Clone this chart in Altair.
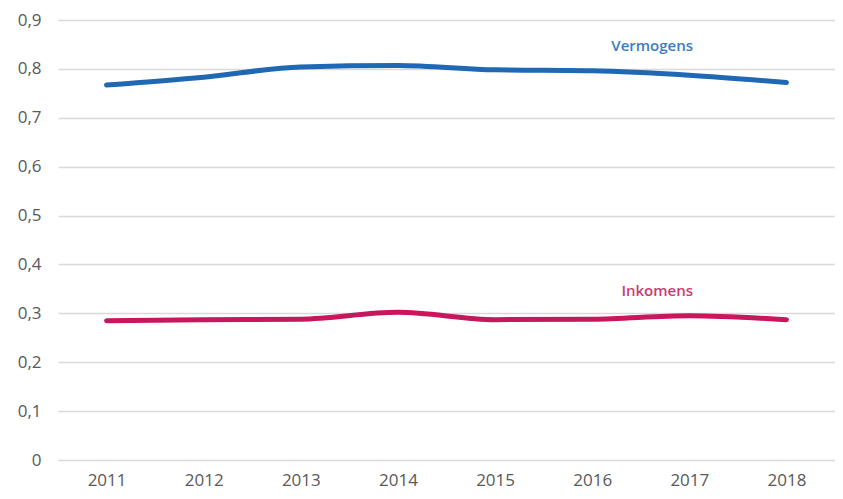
import altair as alt
import pandas as pd

years = ["2011", "2012", "2013", "2014", "2015", "2016", "2017", "2018"]
vermogens = [0.767, 0.783, 0.804, 0.807, 0.798, 0.796, 0.787, 0.772]
inkomens = [0.285, 0.287, 0.288, 0.302, 0.287, 0.288, 0.295, 0.287]
series_names = ["Vermogens", "Inkomens"]
series_colors = ["#1f68b4", "#c8175d"]
label_colors = ["#3b7cc0", "#c93a72"]
label_year = ["2016", "2016"]
label_value = [0.846, 0.346]

rows = []
for y, v in zip(years, vermogens):
    rows.append({"year": y, "value": v, "series": "Vermogens"})
for y, v in zip(years, inkomens):
    rows.append({"year": y, "value": v, "series": "Inkomens"})
df = pd.DataFrame(rows)

lab = pd.DataFrame({"year": label_year, "value": label_value, "series": series_names})

font = "Open Sans"
xenc = alt.X("year:O", scale=alt.Scale(type="point", padding=0.5),
             axis=alt.Axis(title=None, labelAngle=0, domain=False, ticks=False,
                           labelPadding=12, labelFontSize=17, labelColor="#595959",
                           labelFont=font, grid=False))
yenc = alt.Y("value:Q", scale=alt.Scale(domain=[0, 0.9], nice=False),
             axis=alt.Axis(title=None, values=[0, 0.1, 0.2, 0.3, 0.4, 0.5, 0.6, 0.7, 0.8, 0.9],
                           labelExpr="datum.value == 0 ? '0' : replace(format(datum.value, '.1f'), '.', ',')",
                           domain=False, ticks=False, labelPadding=17, labelFontSize=17,
                           labelColor="#595959", labelFont=font, grid=True,
                           gridColor="#d9d9d9", gridWidth=1.5))

lines = alt.Chart(df).mark_line(strokeWidth=5, interpolate="monotone", strokeCap="round").encode(
    x=xenc, y=yenc,
    color=alt.Color("series:N", scale=alt.Scale(domain=series_names, range=series_colors), legend=None),
    detail="series:N",
)

def label_layer(name, dx):
    return alt.Chart(lab[lab["series"] == name]).mark_text(
        dx=dx, fontSize=15, fontWeight=600, font=font).encode(
        x=alt.X("year:O", scale=alt.Scale(type="point", padding=0.5)),
        y=alt.Y("value:Q"),
        text="series:N",
        color=alt.Color("series:N", scale=alt.Scale(domain=series_names, range=label_colors), legend=None),
    )

texts_v = label_layer("Vermogens", 60)
texts_i = label_layer("Inkomens", 65)

chart = alt.layer(lines, texts_v, texts_i).resolve_scale(color="independent").properties(
    width=777, height=440,
    padding={"left": 50, "top": 12, "right": 0, "bottom": 31},
    autosize=alt.AutoSizeParams(type="none"),
).configure_view(stroke=None)

chart.save("out.html", embed_options={"renderer": "svg", "actions": False})
